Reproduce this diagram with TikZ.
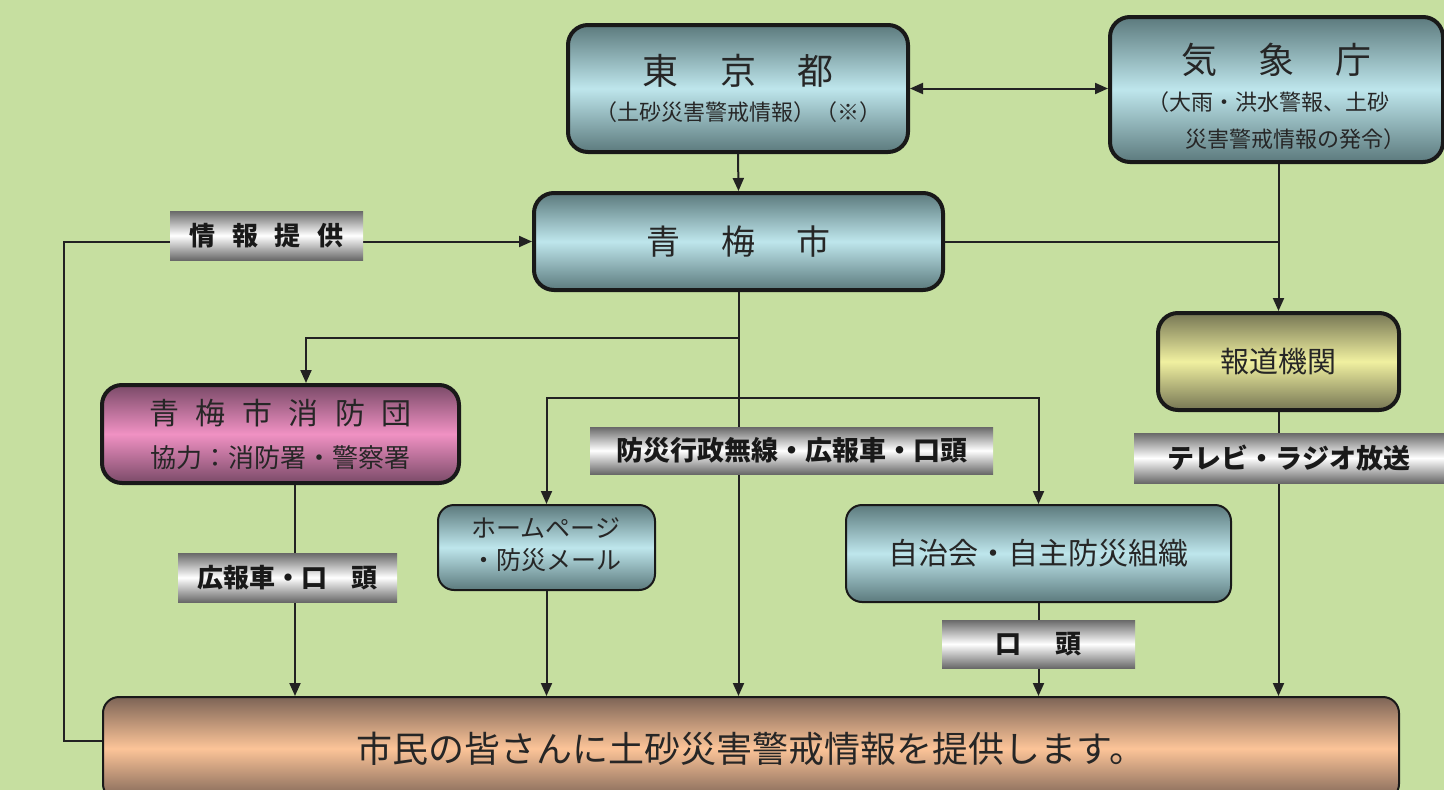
\documentclass[tikz,border=0pt]{standalone}
\usepackage{fontspec}
\setmainfont{Noto Sans CJK JP}
\usetikzlibrary{arrows.meta,shapes}

\definecolor{bgreen}{RGB}{198,223,160}
\definecolor{tealdark}{RGB}{92,122,125}
\definecolor{teallight}{RGB}{190,230,236}
\definecolor{pinkdark}{RGB}{122,74,104}
\definecolor{pinklight}{RGB}{240,145,195}
\definecolor{yeldark}{RGB}{118,118,84}
\definecolor{yellight}{RGB}{240,240,160}
\definecolor{orgdark}{RGB}{125,100,86}
\definecolor{orglight}{RGB}{252,196,152}
\definecolor{labdark}{RGB}{105,105,105}
\definecolor{linecol}{RGB}{34,34,34}

\begin{document}
\begin{tikzpicture}[x=1pt,y=-1pt,>={Triangle[length=13pt,width=11pt]},line width=2pt]

  \tikzstyle{box}=[draw=black!90,line width=4pt,rounded corners=20pt,inner sep=0pt,align=center,text=black!85]
  \tikzstyle{thin box}=[box,line width=2pt,rounded corners=16pt]
  \tikzstyle{teal}=[top color=tealdark,bottom color=tealdark,middle color=teallight]
  \tikzstyle{pink}=[top color=pinkdark,bottom color=pinkdark,middle color=pinklight]
  \tikzstyle{yellow}=[top color=yeldark,bottom color=yeldark,middle color=yellight]
  \tikzstyle{orange}=[top color=orgdark,bottom color=orgdark,middle color=orglight]
  \tikzstyle{label box}=[inner sep=0pt,top color=labdark,bottom color=labdark,middle color=white,
    font=\bfseries\fontsize{26}{26}\selectfont,text=black!90]
  \tikzstyle{link}=[draw=linecol,line width=2pt]

  \clip (0,0) rectangle (1444,790);
  \fill[bgreen] (0,0) rectangle (1444,790);

  % boxes
  \node[box,teal,minimum width=340pt,minimum height=127pt,font=\fontsize{22}{36}\selectfont]
    (tokyo) at (738,88.5) {{\fontsize{36}{36}\selectfont 東\hspace{1.15em}京\hspace{1.15em}都}\\（土砂災害警戒情報）（※）};
  \node[box,teal,minimum width=333pt,minimum height=145pt,font=\fontsize{22}{37}\selectfont]
    (jma) at (1276.5,89.5) {{\fontsize{36}{36}\selectfont\rule{0pt}{54pt}気\hspace{1.15em}象\hspace{1.15em}庁}\\
    \begin{tabular}[t]{@{}l@{}}（大雨・洪水警報、土砂\\\hspace*{1.7em}災害警戒情報の発令）\end{tabular}};
  \node[box,teal,minimum width=409pt,minimum height=97pt,font=\fontsize{34}{34}\selectfont]
    (ome) at (738.5,241.5) {青\hspace{1.2em}梅\hspace{1.2em}市};
  \node[box,yellow,minimum width=241pt,minimum height=97pt,font=\fontsize{29}{29}\selectfont]
    (media) at (1278.5,361.5) {報道機関};
  \node[box,pink,minimum width=357pt,minimum height=98pt,font=\fontsize{26}{43}\selectfont]
    (fire) at (280.5,434) {{\fontsize{30}{43}\selectfont 青\hspace{0.55em}梅\hspace{0.55em}市\hspace{0.55em}消\hspace{0.55em}防\hspace{0.55em}団}\\協力：消防署・警察署};
  \node[thin box,teal,minimum width=217pt,minimum height=85pt,font=\fontsize{25}{32}\selectfont]
    (web) at (546.5,547.5) {\begin{tabular}{@{}l@{}}ホームページ\\・防災メール\end{tabular}};
  \node[thin box,teal,minimum width=385pt,minimum height=97pt,font=\fontsize{30}{30}\selectfont]
    (jichi) at (1038.5,553.5) {自治会・自主防災組織};
  \node[thin box,orange,minimum width=1296pt,minimum height=103pt,font=\fontsize{36}{36}\selectfont]
    (citizen) at (751,748.5) {市民の皆さんに土砂災害警戒情報を提供します。};

  % connectors
  \coordinate (split1) at (738,338);
  \coordinate (split2) at (738,398);
  \coordinate (loop) at (64,741);
  \draw[link,<->] (tokyo.east) -- (tokyo.east -| jma.west);
  \draw[link,->] (tokyo.south) -- (ome.north);
  \draw[link,->] (jma.south -| media.north) -- (media.north);
  \draw[link] (ome.east) -- (ome.east -| media.north);
  \draw[link,->] (ome.south) -- (ome.south |- citizen.north);
  \draw[link,->] (split1) -| ([xshift=25.5pt]fire.north);
  \draw[link,->] (split2) -| (web.north);
  \draw[link,->] (split2) -| (jichi.north);
  \draw[link,->] ([xshift=14.5pt]fire.south) -- ([xshift=14.5pt]fire.south |- citizen.north);
  \draw[link,->] (web.south) -- (web.south |- citizen.north);
  \draw[link,->] (jichi.south) -- (jichi.south |- citizen.north);
  \draw[link,->] (media.south) -- (media.south |- citizen.north);
  \draw[link,->] ([yshift=7.5pt]citizen.west) -- (loop) |- (ome.west);

  % labels on the lines
  \node[label box,minimum width=193pt,minimum height=49pt] (infolab) at (266.5,235.5)
    {情\hspace{0.65em}報\hspace{0.65em}提\hspace{0.65em}供};
  \node[label box,minimum width=403pt,minimum height=47pt,font=\bfseries\fontsize{27}{27}\selectfont]
    (radiolab) at (791.5,450.5) {防災行政無線・広報車・口頭};
  \node[label box,minimum width=310pt,minimum height=50pt,font=\bfseries\fontsize{27}{27}\selectfont]
    (tvlab) at (1289,458) {テレビ・ラジオ放送};
  \node[label box,minimum width=219pt,minimum height=49pt] (carlab) at (287.5,577.5) {広報車・口\hspace{0.9em}頭};
  \node[label box,minimum width=193pt,minimum height=48pt] (mouthlab) at (1038.5,644) {口\hspace{1.3em}頭};

\end{tikzpicture}
\end{document}
